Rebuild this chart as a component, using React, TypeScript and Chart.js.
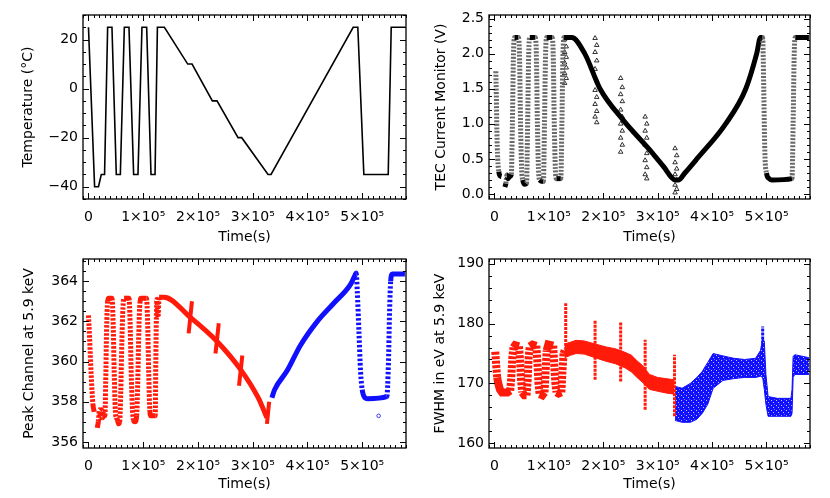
import React, { useEffect, useRef } from "react";
import { Chart, registerables } from "chart.js";

Chart.register(...registerables);

// ---------------- shared axis ----------------
const X_MIN = -10000;
const X_MAX = 580000;
const xTickValues = [0, 100000, 200000, 300000, 400000, 500000];

// ---------------- Temperature ----------------
const tempTime = [0, 11200, 18300, 23400, 29400, 35000, 42900, 50800, 58200, 65500, 74000, 82500, 90400, 97700, 106300, 114200, 121600, 125900, 138700, 181300, 189200, 226300, 234800, 273200, 279900, 328000, 333500, 483500, 492000, 503000, 547500, 553000, 579000];
const tempValue = [25, -40, -40, -35, -35, 25, 25, -35, -35, 25, 25, -35, -35, 25, 25, -35, -35, 25, 25, 10, 10, -5, -5, -20, -20, -35, -35, 25, 25, -35, -35, 25, 25];
const tempTicks = [-40, -20, 0, 20];

// ---------------- TEC current monitor ----------------
const tecTime = [2500, 3500, 4500, 6000, 8000, 10000, 13000, 16000,
  19000, 21000, 23000, 25000, 28000, 31000,
  33000, 35000, 37000, 44000, 46000, 48000, 50000, 52000, 56000, 59000,
  61000, 63000, 65000, 75000, 77000, 79000, 81000, 83000, 90000,
  92000, 94000, 96000, 106000, 108000, 110000, 112000, 114000, 122000,
  124000, 126000, 128000, 142000, 166000, 194000, 237000, 283000, 310000, 333000, 338000, 350000, 372000, 425000, 462000, 482000, 489000, 493000,
  495000, 497000, 500000, 505000, 510000, 547000, 549000, 551000, 553000, 578000];
const tecValue = [1.75, 1.4, 0.9, 0.5, 0.32, 0.26, 0.25, null,
  0.1, 0.15, 0.27, 0.22, 0.25, 0.28,
  1.0, 2.0, 2.23, 2.23, 2.0, 1.0, 0.35, 0.2, 0.14, 0.15,
  1.0, 2.0, 2.23, 2.23, 2.0, 1.0, 0.35, 0.2, 0.18,
  1.0, 2.0, 2.23, 2.23, 2.0, 1.0, 0.35, 0.22, 0.22,
  1.0, 2.0, 2.23, 2.23, 2.0, 1.5, 1.05, 0.65, 0.4, 0.2, 0.2, 0.3, 0.5, 1.0, 1.5, 2.0, 2.23, 2.23,
  1.5, 0.6, 0.3, 0.22, 0.2, 0.22, 1.0, 2.0, 2.23, 2.23];
const tecBurstTime = [
  129000, 132000, 129000, 132000, 129000, 132000, 129000, 132000, 129000,
  185000, 188000, 185000, 188000, 185000, 188000, 185000, 188000, 185000, 188000, 185000, 188000,
  232000, 235000, 232000, 235000, 232000, 235000, 232000, 235000, 232000, 235000, 232000,
  277000, 280000, 277000, 280000, 277000, 280000, 277000, 280000, 277000, 280000,
  332000, 335000, 332000, 335000, 332000, 335000, 332000, 335000, 332000];
const tecBurstValue = [
  2.2, 2.1, 2.02, 1.95, 1.87, 1.8, 1.72, 1.65, 1.58,
  2.22, 2.12, 2.02, 1.9, 1.78, 1.62, 1.48, 1.38, 1.28, 1.18, 1.1, 1.02,
  1.65, 1.52, 1.42, 1.32, 1.2, 1.1, 1.0, 0.9, 0.8, 0.7, 0.6,
  1.1, 1.0, 0.9, 0.8, 0.7, 0.58, 0.48, 0.38, 0.28, 0.22,
  0.65, 0.55, 0.45, 0.36, 0.28, 0.2, 0.13, 0.07, 0.02];
const tecTicks = [0, 0.5, 1.0, 1.5, 2.0, 2.5];

// ---------------- Peak channel ----------------
const peakRedTime = [0, 2000, 5000, 8000, 10500, 13000, 16000, 18000, 20000, 22000, 24000, 26000, 28000, 30000, 31500, 33000, 35000, 37000, 43000, 45000, 47000, 49000, 51000, 53000, 55000, 57000, 59000, 61000, 63000, 65000, 74000, 76000, 78000, 80000, 82000, 85000, 88000, 90000, 92000, 94000, 96000, 106000, 108000, 110000, 112000, 114000, 122000, 123000, 124000, 125000, 127000, 129000, 138000, 186000, 235000, 278000, 310000, 326000];
const peakRedValue = [362.3, 361.2, 359.3, 357.9, 357.5, null, 356.7, 357.0, 357.6, 357.2, 357.6, 357.2, 357.4, 357.3, 359, 361.5, 363.0, 363.15, 363.15, 362, 359.5, 357.6, 357.2, 357.1, 356.9, 357.0, 358.5, 361, 362.7, 363.15, 363.15, 362, 359.5, 357.8, 357.1, 357.0, 357.3, 359, 361.5, 362.9, 363.15, 363.15, 362, 359.5, 357.6, 357.3, 357.3, 360, 362.2, 363.1, 362.2, 363.2, 363.2, 362.2, 361.0, 359.6, 358.2, 357.2];
const peakSpikeStart = [183000, 232000, 275000, 326000];
const peakSpikeEnd = [189000, 238000, 281000, 330000];
const peakSpikeLow = [361.4, 360.4, 358.8, 356.9];
const peakSpikeHigh = [363.0, 361.9, 360.3, 358.0];
const peakBlueTime = [335000, 340000, 363000, 387000, 418000, 448000, 479000, 487000, 489000, 491000, 494000, 497000, 500000, 505000, 510000, 545000, 548000, 550000, 552000, 555000, 578000];
const peakBlueValue = [358.2, 358.6, 359.55, 360.8, 362.0, 362.9, 363.85, 364.3, 364.4, 363.5, 361.5, 359.5, 358.6, 358.2, 358.15, 358.25, 360, 362.5, 364, 364.35, 364.35];
const peakOutlierTime = [530000];
const peakOutlierValue = [357.3];
const peakTicks = [356, 358, 360, 362, 364];

// ---------------- FWHM ----------------
const fwhmRedTime = [1500, 3000, 5000, 7000, 10000, 14000, 24000, 29000, 31000, 33000, 35000, 38000, 45000, 47000, 49000, 51000, 55000, 59000, 61000, 63000, 65000, 70000, 77000, 79000, 81000, 83000, 88000, 92000, 94000, 96000, 99000, 108000, 110000, 112000, 114000, 118000, 123000, 125000, 127000, 129000];
const fwhmRedValue = [175.3, 173.3, 171, 170, 169, 168.5, 168.5, 168.8, 171, 174.5, 176, 176.4, 176.2, 174, 170.5, 168.5, 168, 168, 170.5, 174.5, 176.2, 176.5, 176.3, 173.5, 170, 168.2, 168, 168.5, 172, 175.5, 176.5, 176.3, 173, 170, 168.5, 168.3, 168.5, 172, 175, 175.5];
const fwhmRedBandTime = [129000, 140000, 150000, 165000, 185000, 205000, 222000, 240000, 252000, 262000, 272000, 285000, 300000, 315000, 331000];
const fwhmRedBandLow = [174.3, 174.7, 175, 174.9, 174.3, 173.7, 173.3, 172.6, 171.9, 171, 170.2, 169, 168.7, 168.4, 168.2];
const fwhmRedBandHigh = [176.6, 176.9, 177.2, 177.1, 176.6, 176.1, 175.8, 175.2, 174.7, 173.8, 173, 171.5, 171, 170.8, 170.6];
const fwhmRedSpikeTime = [131000, 185000, 232000, 277000, 331000];
const fwhmRedSpikeLow = [175.6, 170.6, 170.3, 165.6, 164.5];
const fwhmRedSpikeHigh = [183.4, 180.6, 180.3, 177.3, 174.8];
const fwhmBlueTime = [332000, 345000, 360000, 372000, 382000, 392000, 402000, 420000, 440000, 460000, 480000, 489000, 493000, 496000, 499000, 503000, 520000, 545000, 547000, 549000, 552000, 578000];
const fwhmBlueLow = [163.8, 163.5, 163.5, 164, 165, 166.5, 169.2, 170.5, 170.8, 171, 171, 171.2, 171, 169, 166.5, 164.5, 164.5, 164.5, 165, 171, 171.5, 171.5];
const fwhmBlueHigh = [169.5, 169.2, 170, 171, 172, 173.5, 175, 174.6, 174.2, 174, 174.2, 175.5, 177.5, 177, 171.5, 167.8, 167.5, 167.5, 169, 174.5, 174.8, 174.3];
const fwhmBlueSpikeTime = [493000];
const fwhmBlueSpikeLow = [174];
const fwhmBlueSpikeHigh = [179.5];
const fwhmTicks = [160, 170, 180, 190];

// ---------------- helpers ----------------
const FONT = { family: "'DejaVu Sans', sans-serif", size: 14 };
const RED = "#ff1a0a";
const BLUE = "#1010ff";

const pts = (t: number[], v: (number | null)[]) => t.map((x, i) => ({ x, y: v[i] }));
const steep = (c: any) => Math.abs(c.p1.y - c.p0.y) > 6 * Math.abs(c.p1.x - c.p0.x);
const fmtTime = (v: number) => (v === 0 ? "0" : `${Math.round(v / 1e5)}×10⁵`);
const fmtMinus = (s: string) => s.replace("-", "−");

function speckle(base: string): any {
  const c = document.createElement("canvas");
  c.width = 5;
  c.height = 5;
  const g = c.getContext("2d") as CanvasRenderingContext2D;
  g.fillStyle = base;
  g.fillRect(0, 0, 5, 5);
  g.fillStyle = "rgba(255,255,255,0.75)";
  g.fillRect(1, 1, 1, 1);
  g.fillRect(3, 3, 1, 1);
  g.fillStyle = "rgba(255,255,255,0.35)";
  g.fillRect(4, 0, 1, 1);
  return g.createPattern(c, "repeat");
}

const idlBox = {
  id: "idlBox",
  afterDatasetsDraw(chart: any, _a: any, opts: any) {
    const { ctx, chartArea: a, scales } = chart;
    const xs = scales.x;
    const ys = scales.y;
    ctx.save();
    ctx.strokeStyle = "#000";
    ctx.lineWidth = 1;
    const seg = (x1: number, y1: number, x2: number, y2: number) => {
      ctx.beginPath();
      ctx.moveTo(x1, y1);
      ctx.lineTo(x2, y2);
      ctx.stroke();
    };
    const minorVals = (min: number, max: number, step: number) => {
      const out: number[] = [];
      for (let k = Math.ceil(min / step - 1e-9); k * step <= max + 1e-9; k++) out.push(k * step);
      return out;
    };
    const MAJ = 6;
    const MIN = 3;
    for (const v of minorVals(xs.min, xs.max, opts.xMinor)) {
      const p = Math.round(xs.getPixelForValue(v)) + 0.5;
      seg(p, a.bottom, p, a.bottom - MIN);
      seg(p, a.top, p, a.top + MIN);
    }
    for (const t of xs.ticks) {
      const p = Math.round(xs.getPixelForValue(t.value)) + 0.5;
      seg(p, a.bottom, p, a.bottom - MAJ);
      seg(p, a.top, p, a.top + MAJ);
    }
    for (const v of minorVals(ys.min, ys.max, opts.yMinor)) {
      const p = Math.round(ys.getPixelForValue(v)) + 0.5;
      seg(a.left, p, a.left + MIN, p);
      seg(a.right, p, a.right - MIN, p);
    }
    for (const t of ys.ticks) {
      const p = Math.round(ys.getPixelForValue(t.value)) + 0.5;
      seg(a.left, p, a.left + MAJ, p);
      seg(a.right, p, a.right - MAJ, p);
    }
    ctx.lineWidth = 1.3;
    ctx.strokeRect(a.left, a.top, a.right - a.left, a.bottom - a.top);
    ctx.restore();
  },
};

type Spec = {
  left: number;
  top: number;
  padTop: number;
  padRight: number;
  yWidth: number;
  yMin: number;
  yMax: number;
  yTicks: number[];
  yMinor: number;
  yFmt: (v: number) => string;
  yTitle: string;
  yTitlePad: number;
  xTitlePad: number;
  datasets: () => any[];
};

function buildConfig(s: Spec): any {
  return {
    type: "scatter",
    data: { datasets: s.datasets() },
    options: {
      animation: false,
      responsive: false,
      devicePixelRatio: 1,
      layout: { padding: { top: s.padTop, right: s.padRight, left: 0, bottom: 0 } },
      plugins: {
        legend: { display: false },
        tooltip: { enabled: false },
        idlBox: { xMinor: 10000, yMinor: s.yMinor },
      },
      scales: {
        x: {
          type: "linear",
          min: X_MIN,
          max: X_MAX,
          grid: { display: false, drawTicks: false },
          border: { display: false },
          afterBuildTicks: (sc: any) => {
            sc.ticks = xTickValues.map((v) => ({ value: v }));
          },
          afterFit: (sc: any) => {
            sc.height = 50;
            sc.paddingLeft = 0;
            sc.paddingRight = 0;
          },
          ticks: { padding: 10, color: "#000", font: FONT, maxRotation: 0, autoSkip: false, callback: (v: any) => fmtTime(Number(v)) },
          title: { display: true, text: "Time(s)", color: "#000", font: FONT, padding: { top: s.xTitlePad, bottom: s.xTitlePad } },
        },
        y: {
          type: "linear",
          min: s.yMin,
          max: s.yMax,
          grid: { display: false, drawTicks: false },
          border: { display: false },
          afterBuildTicks: (sc: any) => {
            sc.ticks = s.yTicks.map((v) => ({ value: v }));
          },
          afterFit: (sc: any) => {
            sc.width = s.yWidth;
            sc.paddingTop = 0;
            sc.paddingBottom = 0;
          },
          ticks: { padding: 5, color: "#000", font: FONT, autoSkip: false, callback: (v: any) => s.yFmt(Number(v)) },
          title: { display: true, text: s.yTitle, color: "#000", font: FONT, padding: { top: s.yTitlePad, bottom: s.yTitlePad } },
        },
      },
    },
    plugins: [idlBox],
  };
}

const lineDs = (data: any[], color: string, width: number, extra: any = {}) => ({
  data,
  showLine: true,
  borderColor: color,
  backgroundColor: color,
  borderWidth: width,
  pointRadius: 0,
  clip: 0,
  spanGaps: false,
  ...extra,
});

const specs: Spec[] = [
  {
    left: 0,
    top: 0,
    padTop: 15,
    padRight: 9,
    yWidth: 83,
    yMin: -45,
    yMax: 30,
    yTicks: tempTicks,
    yMinor: 5,
    yFmt: (v) => fmtMinus(String(v)),
    yTitle: "Temperature (°C)",
    yTitlePad: 19.6,
    xTitlePad: 3.6,
    datasets: () => [lineDs(pts(tempTime, tempValue), "#000", 1.6)],
  },
  {
    left: 415,
    top: 0,
    padTop: 15,
    padRight: 20,
    yWidth: 74,
    yMin: -0.07,
    yMax: 2.55,
    yTicks: tecTicks,
    yMinor: 0.1,
    yFmt: (v) => v.toFixed(1),
    yTitle: "TEC Current Monitor (V)",
    yTitlePad: 18.3,
    xTitlePad: 3.6,
    datasets: () => [
      lineDs(pts(tecTime, tecValue), "#000", 5, {
        cubicInterpolationMode: "monotone",
        segment: {
          borderColor: (c: any) => (steep(c) ? "#6a6a6a" : undefined),
          borderDash: (c: any) => (steep(c) ? [2, 1.5] : undefined),
        },
      }),
      {
        data: pts(tecBurstTime, tecBurstValue),
        showLine: false,
        pointStyle: "triangle",
        pointRadius: 2.6,
        borderColor: "#000",
        backgroundColor: "#fff",
        borderWidth: 0.8,
        clip: 0,
      },
    ],
  },
  {
    left: 0,
    top: 249,
    padTop: 10,
    padRight: 9,
    yWidth: 83,
    yMin: 355.7,
    yMax: 365.1,
    yTicks: peakTicks,
    yMinor: 0.5,
    yFmt: (v) => String(v),
    yTitle: "Peak Channel at 5.9 keV",
    yTitlePad: 20.9,
    xTitlePad: 5.6,
    datasets: () => [
      lineDs(pts(peakRedTime, peakRedValue), RED, 5, {
        cubicInterpolationMode: "monotone",
        segment: { borderDash: (c: any) => (steep(c) ? [2.5, 1.5] : undefined) },
      }),
      ...peakSpikeStart.map((t0, i) =>
        lineDs([{ x: t0, y: peakSpikeLow[i] }, { x: peakSpikeEnd[i], y: peakSpikeHigh[i] }], RED, 4)
      ),
      lineDs(pts(peakBlueTime, peakBlueValue), BLUE, 5, {
        cubicInterpolationMode: "monotone",
        segment: { borderDash: (c: any) => (steep(c) ? [2.5, 2] : undefined) },
      }),
      {
        data: pts(peakOutlierTime, peakOutlierValue),
        showLine: false,
        pointRadius: 1.8,
        borderColor: BLUE,
        backgroundColor: "#fff",
        borderWidth: 0.8,
        clip: 0,
      },
    ],
  },
  {
    left: 415,
    top: 249,
    padTop: 10,
    padRight: 20,
    yWidth: 74,
    yMin: 159.2,
    yMax: 190.8,
    yTicks: fwhmTicks,
    yMinor: 2,
    yFmt: (v) => String(v),
    yTitle: "FWHM in eV at 5.9 keV",
    yTitlePad: 16.6,
    xTitlePad: 5.6,
    datasets: () => [
      lineDs(pts(fwhmRedTime, fwhmRedValue), RED, 8, {
        segment: { borderDash: (c: any) => (steep(c) ? [3, 1.5] : undefined) },
      }),
      lineDs(pts(fwhmRedBandTime, fwhmRedBandLow), RED, 1),
      lineDs(pts(fwhmRedBandTime, fwhmRedBandHigh), RED, 1, { fill: "-1", backgroundColor: RED }),
      lineDs(
        fwhmRedSpikeTime.flatMap((t, i) => [{ x: t, y: fwhmRedSpikeLow[i] }, { x: t, y: fwhmRedSpikeHigh[i] }, { x: t, y: null }]),
        RED,
        3,
        { borderDash: [3, 1] }
      ),
      lineDs(pts(fwhmBlueTime, fwhmBlueLow), BLUE, 1),
      lineDs(pts(fwhmBlueTime, fwhmBlueHigh), BLUE, 1, { fill: "-1", backgroundColor: speckle(BLUE) }),
      lineDs(
        fwhmBlueSpikeTime.flatMap((t, i) => [{ x: t, y: fwhmBlueSpikeLow[i] }, { x: t, y: fwhmBlueSpikeHigh[i] }, { x: t, y: null }]),
        BLUE,
        3,
        { borderDash: [3, 1] }
      ),
    ],
  },
];

function Panel({ spec }: { spec: Spec }) {
  const ref = useRef<HTMLCanvasElement>(null);
  useEffect(() => {
    const chart = new Chart(ref.current as HTMLCanvasElement, buildConfig(spec));
    return () => chart.destroy();
  }, []);
  return (
    <canvas
      ref={ref}
      width={415}
      height={249}
      style={{ position: "absolute", left: spec.left, top: spec.top, width: 415, height: 249 }}
    />
  );
}

export default function App() {
  return (
    <div style={{ position: "absolute", left: 0, top: 0, width: 830, height: 498, background: "#fff" }}>
      {specs.map((s, i) => (
        <Panel key={i} spec={s} />
      ))}
    </div>
  );
}
